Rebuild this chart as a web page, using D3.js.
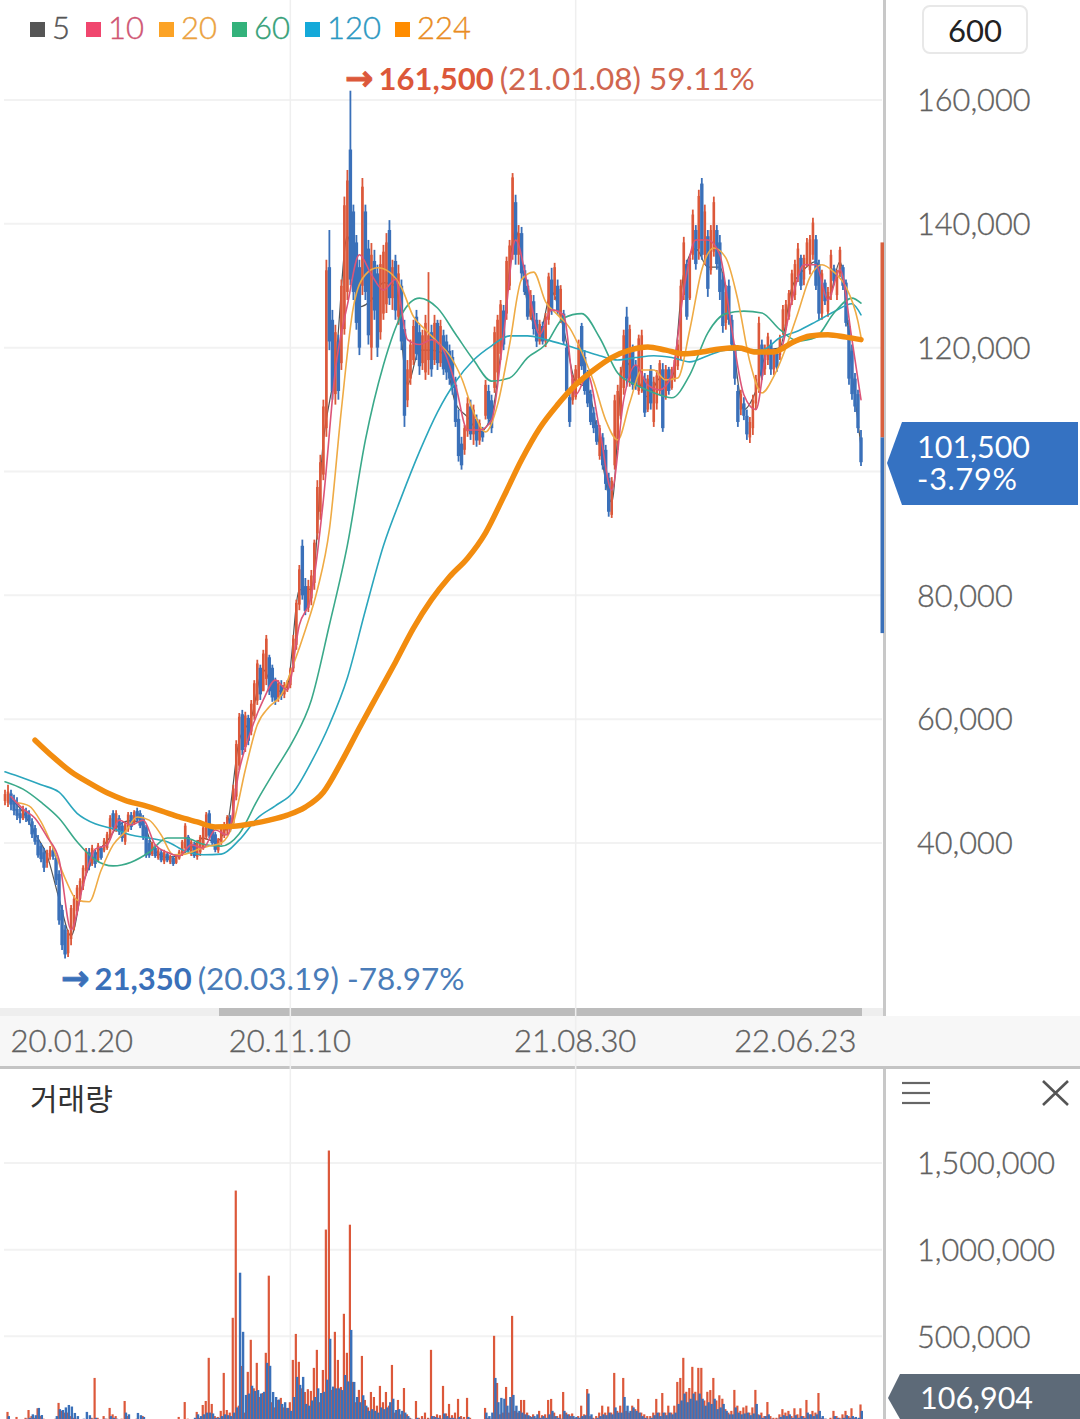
<!DOCTYPE html>
<html lang="ko">
<head>
<meta charset="utf-8">
<title>Stock chart</title>
<script src="https://cdnjs.cloudflare.com/ajax/libs/d3/7.8.5/d3.min.js"></script>
<style>
  html, body { margin: 0; background: #fff; overflow: hidden; }
  svg { display: block; font-family: Lato, "Noto Sans", sans-serif; }
  .axis text { font-family: Lato, sans-serif; font-size: 30.7px; fill: #606060; font-weight: 300; stroke: #606060; stroke-width: .35px; }
  .axis.dates text { font-size: 31px; }
</style>
</head>
<body>
<div id="chart"></div>
<script>
// ========================================
// Data, prices and volumes in thousands
// ========================================
const priceTicks = [40, 60, 80, 100, 120, 140, 160];
const volumeTicks = [500, 1000, 1500];
const dateTicks = [0, 95, 190, 285];
const dateLabels = ['20.01.20', '20.11.10', '21.08.30', '22.06.23'];
const legendNames = ['5', '10', '20', '60', '120', '224'];

const priceHigh = [
  48.6,49.4,48.6,47.8,47.4,45.7,46.0,45.7,45.3,44.0,
  42.9,41.3,40.0,39.2,38.9,39.5,39.2,38.1,35.6,30.0,
  26.8,26.0,30.0,31.6,33.2,34.3,36.4,39.2,39.2,39.7,
  38.9,40.0,39.5,40.8,41.8,44.5,45.3,45.3,44.5,43.4,
  43.4,45.0,45.0,45.3,45.7,45.3,44.5,42.9,40.5,40.2,
  39.7,39.2,38.9,38.9,38.5,38.1,37.9,38.1,38.9,40.5,
  43.2,41.3,40.5,40.2,40.5,41.3,42.9,45.0,45.3,42.9,
  41.8,40.8,42.9,43.4,44.5,44.5,49.4,56.6,61.0,61.5,
  61.2,60.7,63.1,66.3,69.6,68.8,71.2,73.6,70.4,68.8,
  66.7,66.3,66.3,66.0,66.3,68.3,73.6,79.3,84.9,89.0,
  82.8,82.5,84.1,89.0,98.6,102.7,111.6,134.2,139.0,126.1,
  123.7,122.1,131,144.4,148.7,161.5,143.1,138.2,134.2,147.4,
  143.1,137.4,136.9,135.8,133.4,135.0,136.6,138.5,140.6,134.2,
  135.0,133.4,131,124.5,118,121.3,124.5,126.1,123.7,122.9,
  125.3,132.2,123.7,125.3,124.5,124.5,122.9,122.1,120.5,119.6,
  115.3,110,105.6,107.5,112,111.6,110.8,109.2,108.4,107.2,
  114.8,114,112.4,123.4,125.3,127.7,126.9,134.7,137.4,148.2,
  144.7,139.8,139.5,133.4,131,129.3,128.5,125.6,124.5,124.2,
  125.6,132.1,132.9,133.7,131,130.1,126.1,120.8,112.7,115.6,
  117.2,121.3,124,119.6,116.4,113.2,110.4,108.3,107.5,106.2,
  104.3,99.8,99.1,112.4,114,116.9,122.9,126.6,123.7,120.5,
  118,122.1,122.9,115.9,115.6,117.2,115.3,116.4,118,117.5,
  117.2,116.9,116.9,118.5,121.3,131,137.9,134.2,135,142.3,
  139.8,145.5,147.4,143.1,139,139.8,144.4,139.8,138.2,132.1,
  130.1,131,125.3,120.5,114,113.2,112,110,108.8,112.4,
  115.6,125,121.3,120.5,122.4,121.3,119.6,119.6,122.1,126.9,
  127.7,129.3,132.6,134.2,136.9,135,135,137.7,138.2,141,
  138.2,134.2,132.6,131,129.8,135.8,133.4,132.6,136.3,133.4,
  131,124.5,120.5,115.9,113.2,106.7
];
const priceLow = [
  46.1,45.8,45.3,44.5,43.7,43.2,43.7,43.4,42.9,40.8,
  39.7,37.6,36.9,35.3,36.0,37.3,37.3,33.2,26.8,22.7,
  21.35,21.6,23.5,25.9,28.4,30.5,32.4,34.8,35.6,36.3,
  36.0,36.9,37.3,38.5,38.9,40.5,42.1,41.8,41.3,40.2,
  39.7,41.8,42.1,42.9,43.4,42.4,40.5,37.6,37.6,37.9,
  37.6,37.3,36.9,36.6,36.9,36.6,36.3,36.6,37.3,37.9,
  38.9,38.5,37.9,37.6,37.3,37.9,38.9,40.5,40.8,39.7,
  38.5,38.4,39.7,40.8,41.3,41.8,42.7,46.9,51.8,54.2,
  54.7,55.8,57.4,59.9,62.3,63.1,64.7,65.5,63.9,62.8,
  62.3,62.8,63.1,63.4,64.4,65.0,67.6,71.2,77.6,79.3,
  76.8,77.3,78.4,80.9,89.0,92.2,98.6,105.6,119.6,111.6,
  110.8,111.6,116.4,122.1,127.7,130.1,127.7,122.9,118.8,128.5,
  127.7,120.5,118.0,124.5,118.5,121.3,124.5,125.6,126.9,126.1,
  124.5,123.7,119.6,107.2,110.4,114,117.2,118,115.6,116.4,
  114.8,115.6,115.3,117.2,116.4,116.9,115.6,114.8,114,112.4,
  107.2,101.6,100.3,102.7,105.6,105.1,104.3,104,104.3,104.8,
  108.4,107.5,106.2,112.7,114.8,118,119.6,124.5,129.3,134.2,
  133.4,133.4,131,128.5,124.5,124.5,122.1,120.1,120.5,120.5,
  120.1,123.7,125.3,127.7,125.3,124,120.5,112.4,107.2,110.8,
  111.6,114,116.4,112.4,110.4,107.5,106.2,104.3,101.9,100.3,
  97,92.7,92.5,100.3,103.5,108.4,112.4,113.7,113.7,113.2,
  113.2,112.4,112.7,108.8,109.6,110,107.2,110,112.4,106.4,
  111.6,112.4,113.2,114.5,116.4,118,127.7,124.5,127.7,134.2,
  132.6,134.2,134.2,133.4,128.2,131.8,134.7,132.6,127.7,122.4,
  122.9,123.7,119.6,114,107.2,109.1,108.3,105.1,104.6,105.9,
  110,112.7,114.8,115.6,117.2,115.6,115.6,116.1,118,122.1,
  122.9,124.5,126.9,127.7,130.6,129.3,130.1,133,131.8,134.2,
  129.3,124.5,124.5,126.9,125,127.7,130.1,127.7,131.4,129.3,
  123.4,114,111.6,109.6,106.2,100.9
];
const priceOpen = [
  46.8,46.5,48.0,47.0,45.5,44.8,44.0,45.2,44.5,43.5,
  42.4,40.5,39.5,38.5,36.8,37.8,38.8,37.6,35.0,29.2,
  26.0,22.2,24.5,26.5,29.0,31.0,33.0,35.5,38.5,36.8,
  38.5,37.2,39.2,38.8,39.2,40.9,44.8,42.5,44.0,42.8,
  40.2,42.2,44.5,43.2,45.2,44.8,44.0,42.5,40.0,38.2,
  39.2,37.6,38.5,37.0,38.2,36.9,37.6,36.8,37.5,38.2,
  39.2,41.0,38.2,39.8,37.8,38.5,39.2,41.0,44.8,42.5,
  41.4,38.8,40.2,41.2,42.0,44.0,43.2,47.5,52.5,60.8,
  55.5,60.2,58.0,60.5,63.0,68.3,64.5,66.5,70.0,68.3,
  66.2,63.5,65.5,64.0,65.0,65.5,68.2,72.0,78.5,88.0,
  81.5,78.0,79.5,82.0,90.0,93.5,99.5,107.0,133.0,124.5,
  112.5,121,117.5,123,129,152,142,137,133,130,
  142,136,120,134,132,122.5,125.5,127,139,128,
  134,125,130,123,111.5,115,118,125,122.5,117.5,
  116,118,122.5,118,124,117.5,122,121,119.5,118.5,
  114,108.5,104.5,103.5,106.5,110.5,106,108.5,105,106.5,
  109,113,111.5,113.5,116,119,126,125.5,130,135,
  143.5,135,138.5,132.5,130,125,127.5,124.5,121,123.5,
  121,124.5,131,128.5,130,125,125.5,120,112,111.5,
  112,115,123.5,118.5,116,112.5,109.5,107.5,102.5,105.5,
  103.5,99,93,101,104.5,109,113.5,125,115,119.5,
  117,113,113.5,115,110,116.5,108,111,113,116.5,
  112,116.5,113.5,115,117,119,128.5,133.5,128,135,
  139,136,146.5,135,138,132.5,135.5,139,137,131,
  124,130,124.5,119.5,113,110,111,109,105.5,107,
  111,113.5,120.5,116.5,118,120.5,116.5,119,118.8,122.8,
  123.5,125,127.5,128.5,131.5,134.5,131,133.5,132.5,135,
  137.5,133.5,125.5,130.5,125.8,128.5,132.8,128.5,132,133,
  130.5,123.5,119.5,115,112.5,105.5
];
const priceClose = [
  47.9,48.3,46.2,45.2,44.4,44.0,45.5,44.0,43.5,41.4,
  40.2,38.0,37.4,36.0,38.4,38.9,37.8,34.0,27.5,23.5,
  22.0,25.5,29.5,31.0,32.8,33.9,36.0,38.8,36.2,39.2,
  36.6,39.6,37.6,40.4,41.4,44.0,42.6,44.8,41.8,40.8,
  43.0,44.6,42.6,45.0,43.8,42.8,41.0,38.0,38.0,39.8,
  37.9,38.8,37.2,38.5,37.2,37.8,36.6,37.8,38.6,40.2,
  42.8,38.8,40.2,37.9,40.2,41.0,42.5,44.6,41.2,40.0,
  38.9,40.6,42.5,43.0,44.2,42.2,48.8,56.0,60.4,55.0,
  60.6,56.5,62.5,65.8,69.0,64.0,70.6,73.0,64.5,63.5,
  63.0,65.8,63.8,65.5,66.0,68.0,73.0,78.8,84.2,80.0,
  77.5,81.5,83.2,88.5,97.5,101.5,110.5,132.5,121.0,113.0,
  122.5,113,130,143,147,131,129,124,120,146,
  129,122,135,126,120,133.5,135.5,137,128,133,
  126,132,121,109,116.5,120.5,123.5,119,117,122,
  124,122,116.5,124,117.5,123.5,116.5,116,115,113.5,
  108,102.5,101,107,111,106,110,105,107.8,105.5,
  114,108.5,107,122.5,124.5,127,120.5,134,136.5,147.5,
  135,138.5,132,129,125,128.5,123,121,123.8,121,
  125,131.5,126,133,126,129.5,121,113,108,115,
  116.5,120.5,117,113,111,108,107,104.8,107,101,
  98,93.5,98.5,111.5,113,116,122,115,123,114,
  114,121.5,122,109.5,115,111,114.5,115.5,117.5,107,
  116.5,113,116.5,118,120.5,130,137,125,134.5,141.5,
  133.5,144.5,135,142,129.5,139,143.5,133.5,129,123.5,
  129,124.5,120.5,115,108,112.5,109,106,108,111.5,
  115,124,115.5,120,121.8,116.5,119,116.8,121.5,126.2,
  127,128.8,132,133.5,136,130,134.5,137,137.5,140.2,
  130,125.5,132,127.5,129,135,130.8,132,135.8,130,
  124,115,112.5,110.5,107,101.5
];

// Moving averages: one reading every few candles
const ma5 = [47,45,41.5,38,31,25,33.5,38,40.3,42.9,43.6,42.9,38.7,37.7,38,39.2,40.8,40.2,43,56.6,60.2,68,64.4,65.4,80.9,81,105,117,138,126.6,127.7,130.5,130,114,119.6,119.6,119,111,108.8,106.4,109,123,139,127,122.5,129,123,114.5,113.5,104,95,118,115.6,112,115,115,132,136,133,133,122,110,113,119.6,120,129.7,132.6,133.9,127.7,133.9,116,104];
const ma10 = [47.5,45.5,44,41,37.3,26,33.2,39,39.7,43.7,42.9,43.7,39.7,38.5,37.9,39.7,39.2,42.1,41.3,51.8,58.3,63.1,66.3,64.7,75.2,80,95.4,116.4,126.9,135,131.8,129.3,131,121.3,120.5,121.3,119.6,114,106.7,106.7,108.3,122.1,137.4,130.1,122.1,126.1,125.3,112.4,115.6,106.7,97,111.6,117.2,114,113.2,115.6,129.3,137.4,137.4,135,122.9,112.4,110,119.6,119.6,127.7,133.4,133.4,127.7,132.6,121.3,111.6];
const ma20 = [46.5,46,43.4,39.2,34.3,30.8,30.5,35.6,39.7,41.8,44.2,43.7,41.3,38.1,38.2,38.9,39.5,40,43.2,51.8,59.1,62,63.9,68.8,74.4,80.9,90.6,110,126.6,131.8,132.9,132.2,129.7,125,122.9,120.9,118.8,115.1,109.6,106.4,110.8,120.5,131,132.2,127.4,125.3,123.2,119.3,114.5,108.3,105.1,111.1,116.4,116.4,114.8,115.1,122.9,132.6,136.1,134.5,127.7,117.7,112.7,115.4,120,125.6,131.4,133.4,132.2,129.8,124.2,121.7];
const ma60 = [49.9,48.7,46.6,44,40.2,37.3,36.3,36.9,38.5,40.8,40.8,39.8,39.5,41.5,46.9,51.8,56.6,63.1,75.2,88.1,105.1,117.2,125.3,128,126.4,122.2,118,114.6,115.1,118.4,120.5,124.8,125.5,121.6,115.9,114,112.7,111.9,115.6,122.4,125.5,125.9,125.6,122.9,121.1,121.7,125.6,128,127.2];
const ma120 = [51.5,50.5,49.4,48.2,44.8,43.1,42.3,41.3,40.8,40.2,38.7,38.1,38.2,40.5,44,46,48.2,53.1,59.1,66.7,77.6,88,95.9,103.2,109.6,114.5,118,120.3,121.9,121.9,121.3,120.5,119.6,118.7,118,118.4,118.7,118.4,117.7,118.7,119.6,119.6,119.6,121.6,122.7,124.2,125.8,127.1,125.3];
const ma224 = [56.6,53.9,51.5,49.7,48.1,46.9,46.1,45.2,44.2,43.4,42.6,42.7,43.1,43.7,44.5,45.8,48.2,53.1,58.6,63.9,69.2,74.7,79.3,83,86,90.1,95.9,101.9,107,110.8,114,116.4,118.4,119.6,120.1,119.6,119,119.3,119.8,120,119.3,119.3,120.8,121.9,122.1,121.7,121.3];

// Each slot holds two trading days: one up bar and one down bar
const volumeUp = [
  20,64,10,15,35,10,12,30,75,40,
  30,85,40,25,12,15,20,25,116,70,
  60,60,40,30,25,10,15,20,20,30,
  260,30,15,40,25,87,50,40,20,25,
  127,40,20,15,25,15,40,20,12,8,
  5,3,3,3,2,3,3,4,35,20,
  121,25,15,20,64,30,104,127,376,110,
  40,35,70,289,75,60,607,1341,100,329,
  60,295,480,200,347,150,173,405,850,120,
  90,133,145,90,87,120,364,514,353,200,
  179,195,185,318,422,120,306,1116,1572,191,
  526,364,208,630,405,1144,237,120,191,387,
  133,90,179,150,100,214,120,179,100,335,
  60,133,50,202,50,30,20,127,30,40,
  60,30,422,40,50,45,214,55,110,45,
  60,139,40,35,145,30,20,15,8,5,
  87,30,25,503,231,50,60,208,60,618,
  70,60,133,133,60,40,50,30,70,45,
  50,133,139,60,40,50,179,60,50,55,
  30,40,100,50,196,40,30,40,60,100,
  60,95,60,289,70,100,260,70,60,100,
  80,139,60,50,40,40,60,139,60,173,
  60,100,60,100,237,260,376,180,202,324,
  180,318,318,130,180,190,260,130,160,140,
  80,60,70,191,100,70,90,100,60,90,
  191,50,60,40,121,40,30,30,50,80,
  60,70,40,85,50,85,40,133,50,70,
  60,173,30,25,20,30,70,40,30,50,
  70,40,85,30,25,106.9
];
const volumeDown = [
  10,40,8,12,20,8,10,25,30,50,
  45,87,46,20,15,10,18,40,80,75,
  90,104,95,58,40,15,25,64,45,25,
  30,20,10,25,18,40,30,25,15,20,
  60,50,15,10,58,45,35,15,8,5,
  3,2,2,2,2,2,2,2,10,8,
  20,20,10,30,50,40,50,60,60,55,
  30,30,40,50,45,40,60,90,867,526,
  162,170,215,185,190,170,180,347,330,179,
  150,135,110,120,87,70,150,266,220,266,
  110,100,130,150,200,173,180,250,486,210,
  200,200,190,277,240,537,237,150,120,160,
  100,70,80,70,60,90,80,90,120,140,
  75,80,70,60,40,25,20,30,15,25,
  20,25,40,35,30,25,55,40,30,30,
  25,35,25,20,35,15,12,8,10,15,
  60,40,60,260,120,145,140,100,150,162,
  100,70,60,50,45,35,40,50,30,40,
  30,50,70,40,30,25,70,50,40,40,
  35,30,40,45,170,50,25,30,40,50,
  45,60,50,90,60,60,150,100,70,90,
  70,60,40,30,25,30,45,60,40,60,
  45,60,50,60,110,130,170,120,140,170,
  130,170,140,100,120,110,140,80,90,110,
  70,50,50,90,60,50,55,60,45,55,
  110,45,30,40,50,25,20,25,35,45,
  40,50,30,45,30,40,30,60,50,40,
  50,70,40,25,20,20,40,30,25,30,
  45,30,40,35,30,70
];

const prevClose = 105.5, limitUp = 137, limitDown = 73.9, lastClose = 101.5;

// ========================================
// Define colours and scales
// ========================================
const red = '#dc583a', blue = '#3a70b9';
const legendFill = ['#555555', '#f0466e', '#fca326', '#33b27b', '#14a9d9', '#ff8c00'];
const legendText = ['#555555', '#cf5573', '#eba23e', '#35a078', '#2b98c2', '#e98c22'];

const lastIndex = priceClose.length - 1;
const xScale = d3.scaleLinear().domain([0, lastIndex]).range([5, 861]);
const yScale = d3.scaleLinear().domain([40, 160]).range([843, 100]);
const volScale = d3.scaleLinear().domain([0, 1500]).range([1423, 1163]);

const svg = d3.select('#chart').append('svg')
  .attr('width', 1080)
  .attr('height', 1419);

// ========================================
// Grid lines of both panels
// ========================================
svg.append('g').selectAll('line')
  .data(priceTicks).enter().append('line')
    .attr('x1', 4).attr('x2', 882)
    .attr('y1', d => yScale(d)).attr('y2', d => yScale(d))
    .attr('stroke', '#f2f2f2').attr('stroke-width', 2);

svg.append('g').selectAll('line')
  .data(volumeTicks).enter().append('line')
    .attr('x1', 4).attr('x2', 882)
    .attr('y1', d => volScale(d)).attr('y2', d => volScale(d))
    .attr('stroke', '#f2f2f2').attr('stroke-width', 2);

// ========================================
// Scroll bar and date band
// ========================================
svg.append('rect').attr('x', 0).attr('y', 1008).attr('width', 884).attr('height', 8).attr('fill', '#eeeeee');
svg.append('rect').attr('x', 219).attr('y', 1008).attr('width', 643).attr('height', 8).attr('fill', '#bcbcbc');
svg.append('rect').attr('x', 0).attr('y', 1016).attr('width', 1080).attr('height', 51).attr('fill', '#f7f7f7');
svg.append('rect').attr('x', 0).attr('y', 1066).attr('width', 1080).attr('height', 3).attr('fill', '#c4c4c4');

// Vertical lines at the two middle dates
svg.append('g').selectAll('line')
  .data(dateTicks.slice(1, 3)).enter().append('line')
    .attr('x1', d => xScale(d)).attr('x2', d => xScale(d))
    .attr('y1', 0).attr('y2', 1419)
    .attr('stroke', '#efefef').attr('stroke-width', 1.5);

// ========================================
// Moving averages
// ========================================
function drawAverage(values, start, step, color, lineWidth) {
  const line = d3.line()
    .x((d, i) => xScale(Math.min(start + step * i, lastIndex)))
    .y(d => yScale(d))
    .curve(d3.curveMonotoneX);
  svg.append('path')
    .attr('d', line(values))
    .attr('fill', 'none')
    .attr('stroke', color)
    .attr('stroke-width', lineWidth)
    .attr('stroke-linecap', 'round');
}
drawAverage(ma5, 2, 4, '#555555', 1.2);   // sits under the candles

// ========================================
// Candles: up candles first, down candles on top of them
// ========================================
const isUp = i => priceClose[i] >= priceOpen[i];
const candleOrder = d3.range(priceClose.length).sort((a, b) => (isUp(b) - isUp(a)) || (a - b));

const candle = svg.append('g').selectAll('g')
  .data(candleOrder).enter().append('g')
    .attr('fill', i => isUp(i) ? red : blue)
    .attr('stroke', i => isUp(i) ? red : blue);

candle.append('line')
  .attr('x1', i => xScale(i)).attr('x2', i => xScale(i))
  .attr('y1', i => yScale(priceHigh[i])).attr('y2', i => yScale(priceLow[i]))
  .attr('stroke-width', 1.8);

candle.append('rect')
  .attr('stroke', 'none')
  .attr('x', i => xScale(i) - (isUp(i) ? 1.3 : 1.7)).attr('width', i => isUp(i) ? 2.6 : 3.4)
  .attr('y', i => yScale(Math.max(priceClose[i], priceOpen[i])))
  .attr('height', i => Math.abs(yScale(priceClose[i]) - yScale(priceOpen[i])));

drawAverage(ma120, 0, 6, '#2ba6bd', 1.6);
drawAverage(ma60, 0, 6, '#3aa98a', 1.6);
drawAverage(ma20, 4, 4, '#efab45', 1.6);
drawAverage(ma10, 2, 4, '#dc5578', 1.6);
drawAverage(ma224, 10, 6, '#f28c0f', 5.5);

// ========================================
// Volume bars: up bars behind, down bars over them
// ========================================
svg.append('g').selectAll('rect')
  .data(volumeUp).enter().append('rect')
    .attr('fill', red)
    .attr('x', (d, i) => xScale(i) - 1.6).attr('width', 2.2)
    .attr('y', d => volScale(d))
    .attr('height', d => volScale(0) - volScale(d));

svg.append('g').selectAll('rect')
  .data(volumeDown).enter().append('rect')
    .attr('fill', blue)
    .attr('x', (d, i) => xScale(i) - 0.4).attr('width', 2.4)
    .attr('y', d => volScale(d))
    .attr('height', d => volScale(0) - volScale(d));

// ========================================
// Right hand axis line and daily price limits
// ========================================
svg.append('rect').attr('x', 883).attr('y', 0).attr('width', 3).attr('height', 1016).attr('fill', '#c8c8c8');
svg.append('rect').attr('x', 883).attr('y', 1069).attr('width', 3).attr('height', 350).attr('fill', '#c8c8c8');
svg.append('rect').attr('x', 880.5).attr('width', 3.5)
  .attr('y', yScale(limitUp)).attr('height', yScale(prevClose) - yScale(limitUp)).attr('fill', '#d8603f');
svg.append('rect').attr('x', 880.5).attr('width', 3.5)
  .attr('y', yScale(prevClose)).attr('height', yScale(limitDown) - yScale(prevClose)).attr('fill', blue);

// ========================================
// Axes
// ========================================
svg.append('g')
  .attr('class', 'axis')
  .attr('transform', 'translate(917, 1)')
  .call(d3.axisRight(yScale).tickValues(priceTicks).tickSize(0).tickPadding(0)
    .tickFormat(d => d3.format(',')(d * 1000)))
  .call(g => g.select('.domain').remove());

svg.append('g')
  .attr('class', 'axis')
  .attr('transform', 'translate(917, 1)')
  .call(d3.axisRight(volScale).tickValues(volumeTicks).tickSize(0).tickPadding(0)
    .tickFormat(d => d3.format(',')(d * 1000)))
  .call(g => g.select('.domain').remove());

const dateAxis = svg.append('g')
  .attr('class', 'axis dates')
  .attr('transform', 'translate(0, 1042)')
  .call(d3.axisBottom(xScale).tickValues(dateTicks).tickSize(0).tickPadding(0)
    .tickFormat((d, i) => dateLabels[i]));
dateAxis.select('.domain').remove();
dateAxis.selectAll('text').attr('dy', '.32em').attr('y', 0);
dateAxis.selectAll('text').filter((d, i) => i === 0).attr('text-anchor', 'start').attr('dx', 5);
dateAxis.selectAll('text').filter((d, i) => i === 1 || i === 2).attr('dx', -1);
dateAxis.selectAll('text').filter((d, i) => i === 3).attr('text-anchor', 'end').attr('dx', -5);

// ========================================
// Legend
// ========================================
const legendX = [30, 86, 159, 232, 305, 395];
const legend = svg.append('g').selectAll('g')
  .data(legendNames).enter().append('g')
    .attr('transform', (d, i) => 'translate(' + legendX[i] + ', 22)');
legend.append('rect')
  .attr('width', 15).attr('height', 15)
  .attr('fill', (d, i) => legendFill[i]);
legend.append('text')
  .attr('x', 22).attr('y', 17)
  .attr('font-size', 31).attr('font-weight', 300)
  .attr('stroke-width', .4)
  .attr('fill', (d, i) => legendText[i])
  .attr('stroke', (d, i) => legendText[i])
  .text(d => d);

// ========================================
// High and low notes
// ========================================
function drawNote(x, y, color, restColor, value, rest) {
  const note = svg.append('text').attr('x', x).attr('y', y).attr('fill', color).attr('font-size', 31);
  note.append('tspan').attr('font-family', '"DejaVu Sans"').attr('font-weight', 700).attr('font-size', 34)
    .attr('stroke', color).attr('stroke-width', .8).text('\u2192');
  note.append('tspan').attr('dx', 5).attr('font-weight', 700).text(value);
  note.append('tspan').attr('dx', 6).attr('font-weight', 400).attr('font-size', 31.5).attr('fill', restColor).text(rest);
}
drawNote(345, 90, '#dc583a', '#d0664f', '161,500', '(21.01.08) 59.11%');
drawNote(61, 990, '#3a70b9', '#4a7cb8', '21,350', '(20.03.19) -78.97%');

// ========================================
// Period button, volume title, icons
// ========================================
svg.append('rect')
  .attr('x', 923).attr('y', 6).attr('width', 104).attr('height', 47).attr('rx', 7)
  .attr('fill', '#fff').attr('stroke', '#e8e8e8').attr('stroke-width', 2);
svg.append('text')
  .attr('x', 975).attr('y', 42).attr('text-anchor', 'middle')
  .attr('font-size', 31).attr('fill', '#222').text('600');

svg.append('text')
  .attr('x', 30).attr('y', 1110)
  .attr('font-family', '"Noto Sans CJK KR"')
  .attr('font-size', 30).attr('fill', '#333').text('거래량');

svg.append('g').selectAll('line')
  .data([1083, 1093, 1103]).enter().append('line')
    .attr('x1', 902).attr('x2', 930)
    .attr('y1', d => d).attr('y2', d => d)
    .attr('stroke', '#666').attr('stroke-width', 2.2);
svg.append('path')
  .attr('d', 'M1043,1081L1068,1105M1068,1081L1043,1105')
  .attr('stroke', '#555').attr('stroke-width', 2.6).attr('fill', 'none');

// ========================================
// Current price and volume tags
// ========================================
svg.append('polygon')
  .attr('points', '887,463 902,422 1078,422 1078,505 902,505')
  .attr('fill', '#3572c2');
const priceTag = svg.append('text')
  .attr('font-size', 30.5).attr('fill', '#fff');
priceTag.append('tspan')
  .attr('x', 917).attr('y', 458)
  .text(d3.format(',')(lastClose * 1000));
priceTag.append('tspan')
  .attr('x', 917).attr('y', 490).attr('letter-spacing', .8)
  .text('-3.79%');

svg.append('polygon')
  .attr('points', '888,1398 900,1374 1080,1374 1080,1419 900,1419')
  .attr('fill', '#5d6a78');
svg.append('text')
  .attr('x', 920).attr('y', 1409)
  .attr('font-size', 30.5).attr('fill', '#fff').text('106,904');
</script>
</body>
</html>
